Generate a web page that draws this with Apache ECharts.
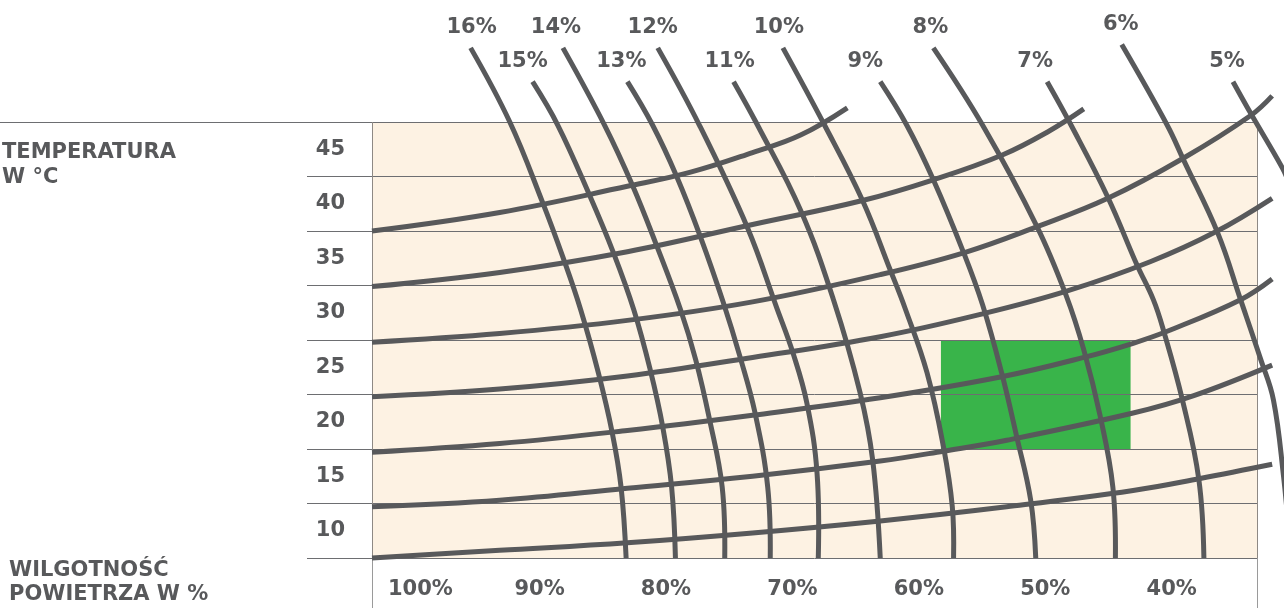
<!DOCTYPE html>
<html><head><meta charset="utf-8">
<script src="https://cdn.jsdelivr.net/npm/echarts@6/dist/echarts.min.js"></script>
<style>html,body{margin:0;padding:0;background:#fff}#c{width:1284px;height:608px}</style>
</head><body><div id="c"></div>
<script>
// ---- data (x = wilgotność powietrza %, y = temperatura °C) ----
const humidityTicks = [100, 90, 80, 70, 60, 50, 40];
const temperatureTicks = [10, 15, 20, 25, 30, 35, 40, 45];
const moistureLabels = ['16%', '15%', '14%', '13%', '12%', '11%', '10%', '9%', '8%', '7%', '6%', '5%'];

const tempLine1 = [[100,7.5],[89.9,8.2],[79.8,8.9],[69.9,9.8],[59.8,10.9],[49.8,12.2],[39.8,13.7],[34.5,14.8],[28.8,16.1]];
const tempLine2 = [[100,12.2],[89.9,12.8],[79.8,13.9],[69.9,15.0],[59.8,16.4],[54.8,17.3],[49.8,18.3],[39.8,20.8],[35.0,22.4],[28.8,25.2]];
const tempLine3 = [[100,17.2],[89.9,18.0],[79.8,19.2],[69.9,20.6],[59.8,22.2],[50.3,24.1],[43.7,25.9],[39.8,27.2],[37.1,28.3],[31.3,31.2],[28.8,33.1]];
const tempLine4 = [[100,22.3],[89.9,23.0],[79.8,24.2],[69.9,25.9],[59.8,27.8],[51.7,29.9],[45.0,32.0],[38.4,34.7],[33.3,37.4],[28.8,40.5]];
const tempLine5 = [[100,27.3],[89.9,28.1],[79.8,29.3],[69.9,31.0],[59.8,33.5],[53.2,35.5],[47.4,37.9],[41.8,40.5],[35.8,44.2],[30.5,48.1],[28.8,49.9]];
const tempLine6 = [[100,32.4],[89.9,33.7],[79.8,35.6],[69.9,38.1],[61.2,40.3],[55.6,42.2],[50.1,44.5],[46.4,46.7],[43.7,48.7]];
const tempLine7 = [[100,37.5],[89.9,39.2],[79.8,41.6],[74.8,42.9],[69.9,44.7],[66.1,46.3],[62.4,48.8]];

const moisture16 = [[92.2,54.3],[89.1,47.5],[86.5,40.1],[84.9,35.1],[83.5,30.3],[82.1,24.5],[81.0,19.0],[80.3,14.0],[79.9,7.5]];
const moisture15 = [[87.3,51.2],[85.3,47.2],[82.8,40.8],[80.9,35.5],[79.3,30.3],[78.0,24.8],[77.0,19.5],[76.3,14.0],[76.0,7.5]];
const moisture14 = [[84.9,54.3],[81.6,47.2],[79.4,41.7],[77.5,36.2],[75.6,30.3],[74.4,25.7],[73.3,20.2],[72.3,14.0],[72.1,7.5]];
const moisture13 = [[79.8,51.2],[77.8,47.2],[75.9,42.5],[74.0,36.9],[72.2,30.9],[70.9,26.0],[69.7,20.8],[68.7,14.0],[68.5,7.5]];
const moisture12 = [[77.4,54.3],[74.1,47.2],[70.3,37.8],[68.0,30.5],[66.7,26.3],[65.6,21.7],[64.8,15.3],[64.7,7.5]];
const moisture11 = [[71.4,51.2],[69.5,47.2],[66.1,39.4],[63.5,31.2],[61.4,22.7],[60.4,16.5],[59.8,7.5]];
const moisture10 = [[67.5,54.3],[64.2,47.2],[61.2,40.3],[59.0,33.9],[57.8,30.3],[56.1,24.5],[54.8,17.7],[54.1,12.2],[54.0,7.5]];
const moisture9  = [[59.8,51.2],[57.7,47.2],[55.6,42.2],[53.2,35.5],[51.7,30.7],[50.2,24.5],[49.0,18.6],[47.9,12.8],[47.5,7.5]];
const moisture8  = [[55.6,54.3],[51.7,47.2],[47.4,37.9],[45.1,31.6],[43.7,26.6],[42.4,20.5],[41.4,14.0],[41.2,7.5]];
const moisture7  = [[46.6,51.2],[44.7,47.2],[41.8,40.6],[39.5,34.4],[38.2,31.2],[37.4,28.4],[35.9,22.0],[34.6,14.7],[34.2,7.5]];
const moisture6  = [[40.7,54.6],[37.1,47.2],[35.8,44.0],[33.1,37.3],[31.3,31.2],[29.7,25.7],[28.7,22.0],[27.9,15.0],[27.5,10.0]];
const moisture5  = [[31.9,51.2],[30.5,48.3],[28.0,43.3],[27.5,42.0]];

const greenZoneHumidity = [40, 55];
const greenZoneTemperature = [17.5, 27.5];

// ---- chart ----
const tempLines = [tempLine1, tempLine2, tempLine3, tempLine4, tempLine5, tempLine6, tempLine7];
const moistureLines = [moisture16, moisture15, moisture14, moisture13, moisture12, moisture11, moisture10, moisture9, moisture8, moisture7, moisture6, moisture5];
const allCurves = tempLines.concat(moistureLines);
// horizontal nudge of each top label (style only)
const labelShiftX = [1, -10, -7, -6, -5, -4, -4, -15, -3, -12, -1, -6];

const INK = '#58595b';
const FONT = 'DejaVu Sans';
const txt = {color: INK, fontFamily: FONT, fontWeight: 'bold', fontSize: 21};

const series = [];
series.push({type: 'line', xAxisIndex: 0, yAxisIndex: 0, data: [], z: 1, silent: true,
  markArea: {silent: true, itemStyle: {color: '#39b44a'},
    data: [[{coord: [greenZoneHumidity[1], greenZoneTemperature[1]]}, {coord: [greenZoneHumidity[0], greenZoneTemperature[0]]}]]}});
series.push({
  type: 'custom', name: 'curves', xAxisIndex: 0, yAxisIndex: 0, z: 3, silent: true, clip: false,
  data: allCurves.map(c => c[0]),
  encode: {x: 0, y: 1},
  renderItem: (params, api) => ({
    type: 'polyline',
    shape: {points: allCurves[params.dataIndex].map(p => api.coord(p)), smooth: 0.4},
    style: {stroke: INK, lineWidth: 5, fill: 'none', lineCap: 'butt', lineJoin: 'round'}
  })
});
series.push({type: 'scatter', xAxisIndex: 0, yAxisIndex: 0, symbolSize: 0, z: 4, silent: true, clip: false,
  itemStyle: {opacity: 1},
  data: moistureLines.map((d, i) => ({name: moistureLabels[i], value: d[0], label: {offset: [labelShiftX[i], 0]}})),
  label: {show: true, position: 'top', distance: 8, formatter: p => p.name, ...txt, lineHeight: 24}});

const chart = echarts.init(document.getElementById('c'), null, {renderer: 'canvas'});
chart.setOption({
  animation: false,
  backgroundColor: '#ffffff',
  title: [
    {text: 'TEMPERATURA\nW °C', left: 2, top: 140, padding: 0, textStyle: {...txt, lineHeight: 25}},
    {text: 'WILGOTNOŚĆ\nPOWIETRZA W %', left: 9, top: 559, padding: 0, textStyle: {...txt, lineHeight: 24}}
  ],
  grid: {left: 372, right: 27, top: 122, bottom: 50, show: true, backgroundColor: '#fdf2e3', borderWidth: 0, z: 0},
  xAxis: [{
    type: 'value', min: 30, max: 100, interval: 5, inverse: true, position: 'bottom', z: 2,
    axisLine: {show: false, onZero: false},
    axisTick: {show: true, customValues: [100, 30], length: 50, lineStyle: {color: '#9a9a9a', width: 1}},
    axisLabel: {customValues: humidityTicks, formatter: v => v + '%', align: 'left', padding: [0, 0, 0, 16], margin: 20, ...txt, lineHeight: 24},
    splitLine: {show: true, lineStyle: {color: '#8e8984', width: 1}}
  }],
  yAxis: [{
    type: 'value', min: 7.5, max: 47.5, position: 'left', z: 2,
    axisLine: {show: false, onZero: false},
    axisTick: {show: true, customValues: [47.5], length: 372, lineStyle: {color: '#6d6e71', width: 1}},
    axisLabel: {customValues: temperatureTicks, margin: 27, padding: [4, 0, 0, 0], ...txt},
    splitLine: {show: false}
  }, {
    type: 'value', min: 0, max: 8, interval: 1, position: 'left', z: 2,
    axisLine: {show: false, onZero: false},
    axisTick: {show: true, length: 65, lineStyle: {color: '#6d6e71', width: 1}},
    axisLabel: {show: false},
    splitLine: {show: true, lineStyle: {color: '#6d6e71', width: 1}}
  }],
  series: series
});
</script></body></html>
